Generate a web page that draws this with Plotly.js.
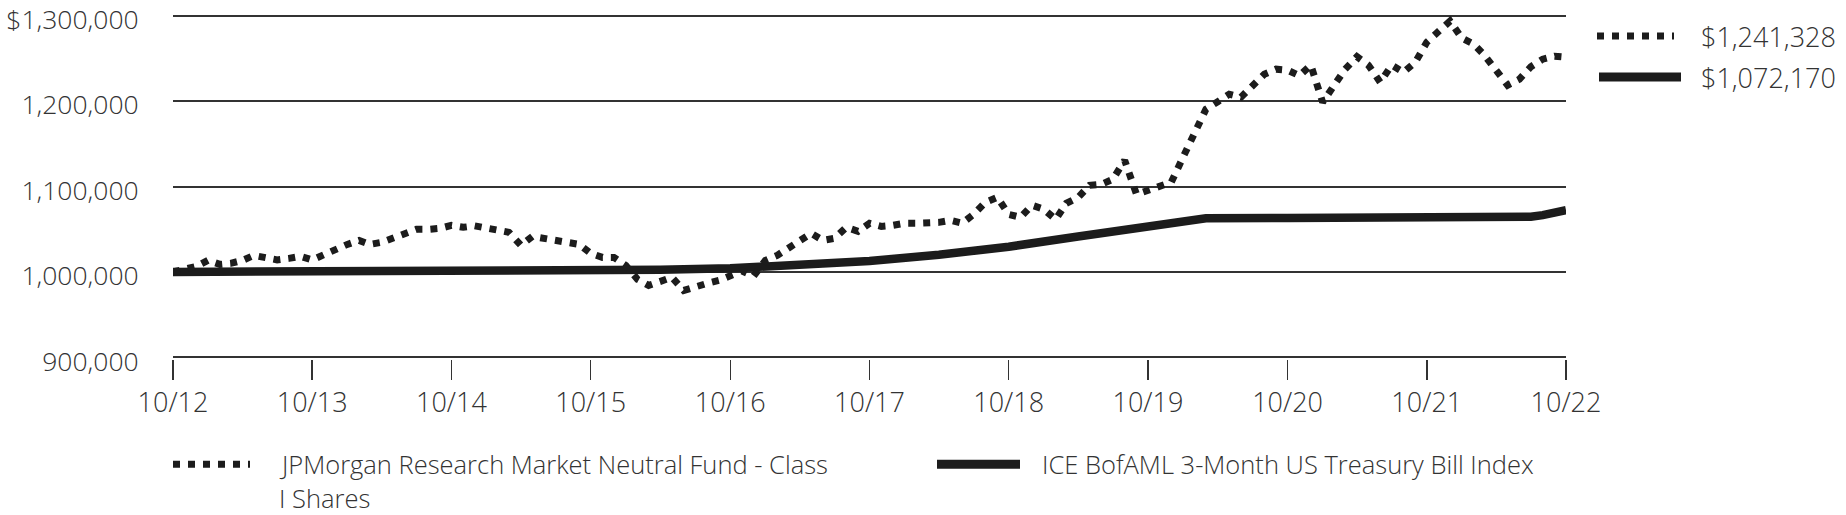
<!DOCTYPE html>
<html>
<head>
<meta charset="utf-8">
<script src="https://cdn.plot.ly/plotly-3.0.1.min.js"></script>
<style>
  html, body { margin: 0; padding: 0; background: #ffffff; }
  #chart { width: 1846px; height: 515px; }
</style>
</head>
<body>
<div id="chart"></div>
<script>
// ---------------- DATA ----------------
const seriesNames = [
  "JPMorgan Research Market Neutral Fund - Class",
  "I Shares",
  "ICE BofAML 3-Month US Treasury Bill Index"
];
const endingValueLabels = ["$1,241,328", "$1,072,170"];

// Fund: monthly values starting October 2012
const fundStart = { year: 2012, month: 10 };
const fundValues = [
  1000000, 1004100, 1006400, 1013500, 1008800, 1010000, 1013500, 1019300, 1016400, 1014100,
  1015800, 1018200, 1014100, 1020500, 1026400, 1032200, 1036900, 1032200, 1034600, 1039300,
  1045700, 1049800, 1049800, 1051000, 1054500, 1052200, 1053900, 1052200, 1048700, 1046300,
  1031100, 1041600, 1039300, 1035800, 1034600, 1032200, 1021700, 1017000, 1017000, 1007600,
  991200, 984200, 988900, 993600, 978300, 983000, 986500, 990000, 994500, 1001000,
  995000, 1013500, 1019300, 1027500, 1036900, 1045100, 1036900, 1039300, 1052200, 1047500,
  1056900, 1053300, 1054500, 1056900, 1056900, 1056900, 1058000, 1060400, 1057000, 1067400,
  1081500, 1087300, 1067400, 1063900, 1078000, 1073300, 1061500, 1080300, 1087300, 1101400,
  1102600, 1108400, 1130700, 1090900, 1095500, 1099100, 1104900, 1134200, 1165900, 1190500,
  1199300, 1208100, 1204600, 1217500, 1231500, 1237400, 1236200, 1229800, 1242100, 1198700,
  1219800, 1237400, 1252000, 1242100, 1222100, 1242100, 1233900, 1245600, 1269000, 1281900,
  1293700, 1273700, 1266700, 1253800, 1237400, 1218600, 1225700, 1240300, 1249100, 1252600,
  1251400
];

// Treasury index, read at selected months
const treasuryDates = [
  "2012-10-01", "2013-10-01", "2014-10-01", "2015-10-01", "2016-04-01", "2016-10-01",
  "2017-04-01", "2017-10-01", "2018-04-01", "2018-10-01", "2019-04-01", "2019-10-01",
  "2020-02-01", "2020-03-01", "2020-10-01", "2021-10-01", "2022-04-01", "2022-07-01",
  "2022-08-01", "2022-09-01", "2022-10-01"
];
const treasuryValues = [
  1000000, 1000300, 1000600, 1001200, 1002500, 1004200,
  1008000, 1012800, 1020000, 1029500, 1041500, 1053000,
  1060000, 1062800, 1063100, 1063500, 1064000, 1064600,
  1066500, 1069000, 1072170
];

const xTickVals = ["2012-10-01","2013-10-01","2014-10-01","2015-10-01","2016-10-01","2017-10-01",
                   "2018-10-01","2019-10-01","2020-10-01","2021-10-01","2022-10-01"];
const xTickText = ["10/12","10/13","10/14","10/15","10/16","10/17","10/18","10/19","10/20","10/21","10/22"];
const yTickVals = [900000, 1000000, 1100000, 1200000, 1300000];
const yTickText = ["900,000", "1,000,000", "1,100,000", "1,200,000", "$1,300,000"];

// ---------------- BUILD ----------------
function monthDate(start, i) {
  const total = (start.year * 12 + (start.month - 1)) + i;
  const y = Math.floor(total / 12);
  const m = (total % 12) + 1;
  return y + "-" + String(m).padStart(2, "0") + "-01";
}
const fundDates = fundValues.map((_, i) => monthDate(fundStart, i));

const FONT = "'Open Sans', 'DejaVu Sans Condensed', sans-serif";
const TXT = "#333333";
const INK = "#1c1c1c";
const DOT = "7px,8px";

const W = 1846, H = 515;
const M = { l: 173, r: 280, t: 14, b: 156.1 };
const PW = W - M.l - M.r, PH = H - M.t - M.b;
const px = x => (x - M.l) / PW;
const py = y => (H - M.b - y) / PH;

const traces = [
  {
    x: treasuryDates, y: treasuryValues, type: "scatter", mode: "lines",
    line: { color: INK, width: 8.5 }, hoverinfo: "skip", showlegend: false
  },
  {
    x: fundDates, y: fundValues, type: "scatter", mode: "lines",
    line: { color: INK, width: 7, dash: DOT }, hoverinfo: "skip", showlegend: false
  }
];

const shapes = [
  // right legend
  { type: "line", xref: "paper", yref: "paper", x0: px(1597), x1: px(1674), y0: py(36), y1: py(36),
    line: { color: INK, width: 7, dash: DOT } },
  { type: "line", xref: "paper", yref: "paper", x0: px(1599), x1: px(1681), y0: py(77), y1: py(77),
    line: { color: INK, width: 9 } },
  // bottom legend
  { type: "line", xref: "paper", yref: "paper", x0: px(173), x1: px(250), y0: py(464), y1: py(464),
    line: { color: INK, width: 7, dash: DOT } },
  { type: "line", xref: "paper", yref: "paper", x0: px(937), x1: px(1020), y0: py(464), y1: py(464),
    line: { color: INK, width: 9 } }
];

function label(text, x, y, size) {
  return { text: text, xref: "paper", yref: "paper", x: px(x), y: py(y),
           xanchor: "left", yanchor: "middle", showarrow: false, borderpad: 0,
           font: { family: FONT, size: size, color: TXT, weight: 300 } };
}
const annotations = [
  label(endingValueLabels[0], 1700, 36, 27),
  label(endingValueLabels[1], 1700, 77, 27),
  label(seriesNames[0], 278, 464, 25.5),
  label(seriesNames[1], 278, 498, 25.5),
  label(seriesNames[2], 1041, 464, 25.5)
];

const layout = {
  width: W, height: H,
  margin: { l: M.l, r: M.r, t: M.t, b: M.b, pad: 0 },
  paper_bgcolor: "#ffffff", plot_bgcolor: "#ffffff",
  font: { family: FONT, size: 27, color: TXT, weight: 300 },
  showlegend: false,
  xaxis: {
    type: "date", range: ["2012-10-01", "2022-10-01"],
    tickmode: "array", tickvals: xTickVals, ticktext: xTickText,
    ticks: "outside", ticklen: 20, tickwidth: 1.5, tickcolor: "#333333",
    showline: false,
    showgrid: false, zeroline: false,
    tickfont: { family: FONT, size: 27, color: TXT, weight: 300 }
  },
  yaxis: {
    range: [898000, 1302000],
    tickmode: "array", tickvals: yTickVals, ticktext: yTickText,
    ticks: "outside", ticklen: 28, tickcolor: "rgba(0,0,0,0)",
    ticklabeloverflow: "allow", ticklabelshift: 4,
    showgrid: true, gridcolor: "#333333", gridwidth: 2,
    showline: false, zeroline: false,
    tickfont: { family: FONT, size: 26.5, color: TXT, weight: 300 }
  },
  shapes: shapes,
  annotations: annotations
};

Plotly.newPlot("chart", traces, layout, { displayModeBar: false, staticPlot: true });
</script>
</body>
</html>
